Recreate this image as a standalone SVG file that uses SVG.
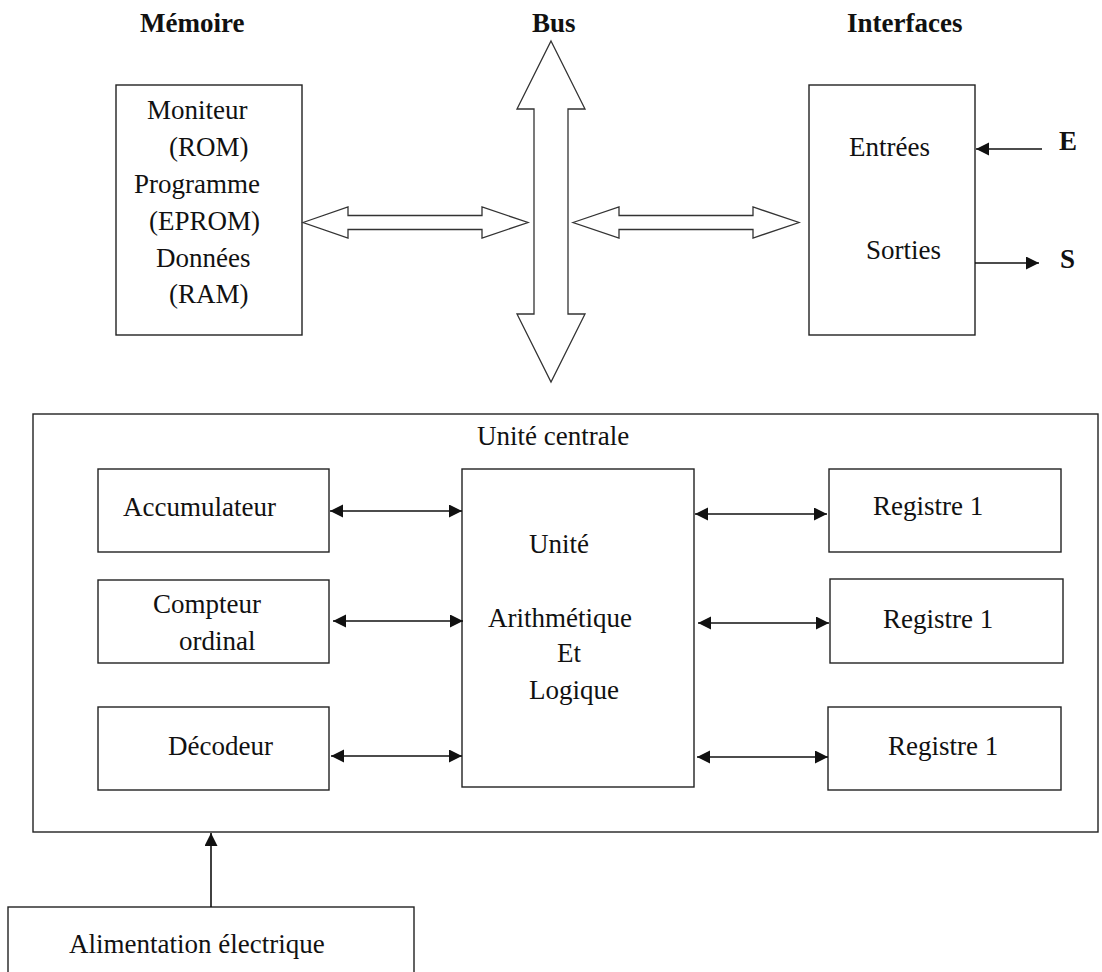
<svg xmlns="http://www.w3.org/2000/svg" width="1102" height="972" viewBox="0 0 1102 972">
  <style>
    .box { fill: none; stroke: #222; stroke-width: 1.4; }
    .wide { fill: #fff; stroke: #333; stroke-width: 1.3; stroke-linejoin: miter; }
    .wire { stroke: #111; stroke-width: 1.6; fill: none; }
    text { font-family: "Liberation Serif", "Times New Roman", serif; font-size: 27px; fill: #111; }
    .head { font-weight: bold; }
  </style>
  <defs>
    <marker id="tip" markerUnits="userSpaceOnUse" markerWidth="14" markerHeight="14" refX="13" refY="6.5" orient="auto-start-reverse">
      <path d="M0,0 L13,6.5 L0,13 z" fill="#111"/>
    </marker>
  </defs>

  <rect width="1102" height="972" fill="#fff"/>

  <!-- column headings -->
  <g id="headings">
    <text class="head" x="140" y="32">Mémoire</text>
    <text class="head" x="532" y="32">Bus</text>
    <text class="head" x="847" y="32">Interfaces</text>
  </g>

  <!-- memory block -->
  <g id="memoire">
    <rect class="box" x="116" y="85" width="186" height="250"/>
    <text x="147" y="119">Moniteur</text>
    <text x="169" y="156">(ROM)</text>
    <text x="134" y="193">Programme</text>
    <text x="149" y="230">(EPROM)</text>
    <text x="156" y="267">Données</text>
    <text x="169" y="303">(RAM)</text>
  </g>

  <!-- interface block -->
  <g id="interfaces">
    <rect class="box" x="809" y="85" width="166" height="250"/>
    <text x="849" y="156">Entrées</text>
    <text x="866" y="259">Sorties</text>
    <text class="head" x="1059" y="150">E</text>
    <text class="head" x="1060" y="268">S</text>
  </g>

  <!-- central processing unit -->
  <g id="unite-centrale">
    <rect class="box" x="33" y="414" width="1065" height="418"/>
    <text x="477" y="445">Unité centrale</text>
  </g>

  <g id="accumulateur">
    <rect class="box" x="98" y="469" width="231" height="83"/>
    <text x="123" y="516">Accumulateur</text>
  </g>
  <g id="compteur">
    <rect class="box" x="98" y="580" width="231" height="83"/>
    <text x="153" y="613">Compteur</text>
    <text x="179" y="650">ordinal</text>
  </g>
  <g id="decodeur">
    <rect class="box" x="98" y="707" width="231" height="83"/>
    <text x="168" y="755">Décodeur</text>
  </g>

  <g id="ual">
    <rect class="box" x="462" y="469" width="232" height="318"/>
    <text x="529" y="553">Unité</text>
    <text x="488" y="627">Arithmétique</text>
    <text x="557" y="662">Et</text>
    <text x="529" y="699">Logique</text>
  </g>

  <g id="registre-a">
    <rect class="box" x="829" y="469" width="232" height="83"/>
    <text x="873" y="515">Registre 1</text>
  </g>
  <g id="registre-b">
    <rect class="box" x="830" y="579" width="233" height="84"/>
    <text x="883" y="628">Registre 1</text>
  </g>
  <g id="registre-c">
    <rect class="box" x="828" y="707" width="233" height="83"/>
    <text x="888" y="755">Registre 1</text>
  </g>

  <g id="alimentation">
    <rect class="box" x="8" y="907" width="406" height="80"/>
    <text x="69" y="953">Alimentation électrique</text>
  </g>

  <!-- connectors -->
  <g id="connecteurs">
    <!-- system bus and its wide double arrows -->
    <polygon class="wide" points="551,41 585,109 568,109 568,314 585,314 551,382 517,314 534,314 534,109 517,109"/>
    <polygon class="wide" points="303,222.5 348,207 348,215.5 482,215.5 482,207 528,222.5 482,238 482,229.5 348,229.5 348,238"/>
    <polygon class="wide" points="573,222.5 619,207 619,215.5 753,215.5 753,207 799,222.5 753,238 753,229.5 619,229.5 619,238"/>

    <!-- inputs / outputs -->
    <line class="wire" x1="1042" y1="149" x2="976" y2="149" marker-end="url(#tip)"/>
    <line class="wire" x1="975" y1="263" x2="1039" y2="263" marker-end="url(#tip)"/>

    <!-- internal links -->
    <line class="wire" x1="330" y1="511" x2="462" y2="511" marker-start="url(#tip)" marker-end="url(#tip)"/>
    <line class="wire" x1="333" y1="621" x2="463" y2="621" marker-start="url(#tip)" marker-end="url(#tip)"/>
    <line class="wire" x1="331" y1="756" x2="462" y2="756" marker-start="url(#tip)" marker-end="url(#tip)"/>
    <line class="wire" x1="695" y1="514" x2="827" y2="514" marker-start="url(#tip)" marker-end="url(#tip)"/>
    <line class="wire" x1="698" y1="623" x2="829" y2="623" marker-start="url(#tip)" marker-end="url(#tip)"/>
    <line class="wire" x1="697" y1="757" x2="828" y2="757" marker-start="url(#tip)" marker-end="url(#tip)"/>

    <!-- power supply -->
    <line class="wire" x1="211" y1="907" x2="211" y2="833" marker-end="url(#tip)"/>
  </g>
</svg>
